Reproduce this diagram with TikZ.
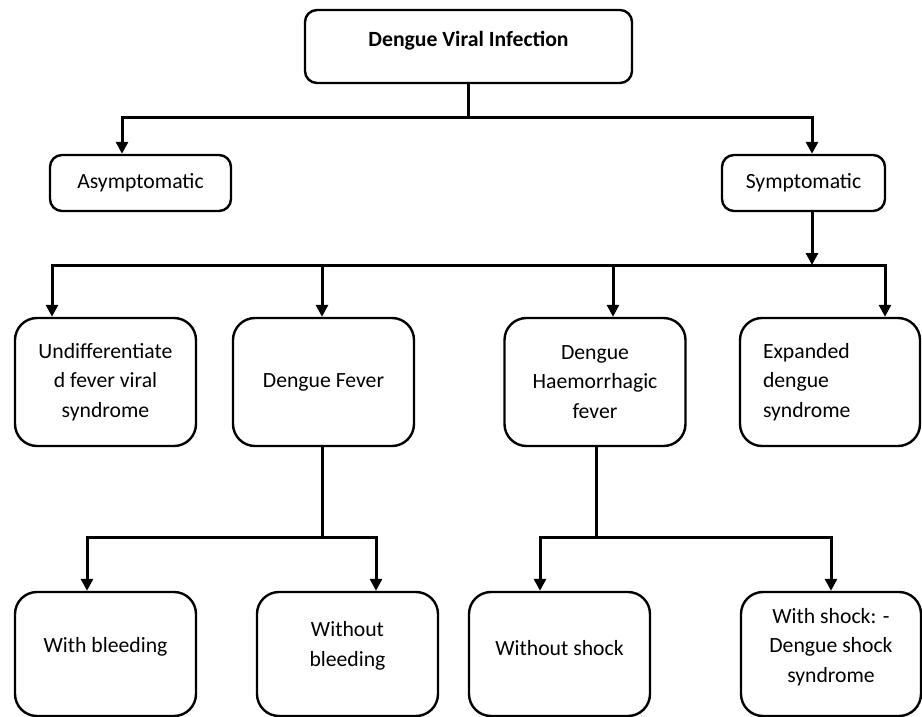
\documentclass[tikz,border=0pt]{standalone}
\usepackage{fontspec}
\setmainfont{Carlito}
\usetikzlibrary{arrows.meta}
\begin{document}
\begin{tikzpicture}[x=1pt,y=-1pt,
  txt/.style={inner sep=0pt,align=center,font=\fontsize{21.7}{29.5}\selectfont},
  box/.style={txt,draw,line width=2.4pt},
  small/.style={box,rounded corners=12pt},
  big/.style={box,rounded corners=22pt,minimum width=181pt},
  conn/.style={line width=3pt,line join=miter},
  tip/.style={conn,-{Triangle[length=12pt,width=12pt]}},
  tips/.style={conn,{Triangle[length=12pt,width=12pt]}-{Triangle[length=12pt,width=12pt]}}
]
\useasboundingbox (0,0) rectangle (922,717);

% nodes
\node[small,minimum width=327pt,minimum height=73pt,text height=15pt,text depth=15pt,
      font=\fontsize{21.7}{29.5}\selectfont\bfseries] (top) at (468.5,46.5) {Dengue Viral Infection};
\node[small,minimum width=181pt,minimum height=56pt] (asym) at (140.5,183) {Asymptomatic};
\node[small,minimum width=163pt,minimum height=56pt] (symp) at (803.5,183) {Symptomatic};

\node[big,minimum height=128pt] (undiff) at (105.5,382) {Undifferentiate\\d fever viral\\syndrome};
\node[big,minimum height=128pt] (df) at (323.5,382) {Dengue Fever};
\node[big,minimum height=128pt] (dhf) at (595,382) {Dengue\\Haemorrhagic\\fever};
\node[big,minimum height=128pt,align=left,text width=134pt,inner xsep=23pt,minimum width=180pt] (exp) at (830,382) {Expanded\\dengue\\syndrome};

\node[big,minimum height=124pt] (wb) at (105.5,654) {};
\node[big,minimum height=124pt] (wob) at (347.5,654) {};
\node[big,minimum height=124pt] (wos) at (559.5,654) {};
\node[big,minimum height=124pt,minimum width=180pt] (ws) at (831,654) {};
\node[txt] (wbt) at (105.5,647) {With bleeding};
\node[txt] (wobt) at (347.5,646) {Without\\bleeding};
\node[txt] (wost) at (559.5,648) {Without shock};
\node[txt] (wst) at (831,647) {With shock: -\\Dengue shock\\syndrome};

% junction coordinates
\coordinate (j0) at (468.5,118);
\coordinate (jL) at (122,118);
\coordinate (jR) at (812,118);
\coordinate (s0) at (812,265);
\coordinate (r1) at (52,265);
\coordinate (r2) at (322,265);
\coordinate (r3) at (613,265);
\coordinate (r4) at (885,265);
\coordinate (d0) at (322,537);
\coordinate (d1) at (87,537);
\coordinate (d2) at (376,537);
\coordinate (h0) at (596,537);
\coordinate (h1) at (540,537);
\coordinate (h2) at (831,537);

% connectors
\draw[conn] (top.south) -- (j0);
\draw[tips] (jL|-asym.north) -- (jL) -- (jR) -- (jR|-symp.north);

\draw[tip] (s0|-symp.south) -- (s0);
\draw[tips] (r1|-undiff.north) -- (r1) -- (r4) -- (r4|-exp.north);
\draw[tip] (r2) -- (r2|-df.north);
\draw[tip] (r3) -- (r3|-dhf.north);

\draw[conn] (d0|-df.south) -- (d0);
\draw[tips] (d1|-wb.north) -- (d1) -- (d2) -- (d2|-wob.north);

\draw[conn] (h0|-dhf.south) -- (h0);
\draw[tips] (h1|-wos.north) -- (h1) -- (h2) -- (h2|-ws.north);
\end{tikzpicture}
\end{document}
